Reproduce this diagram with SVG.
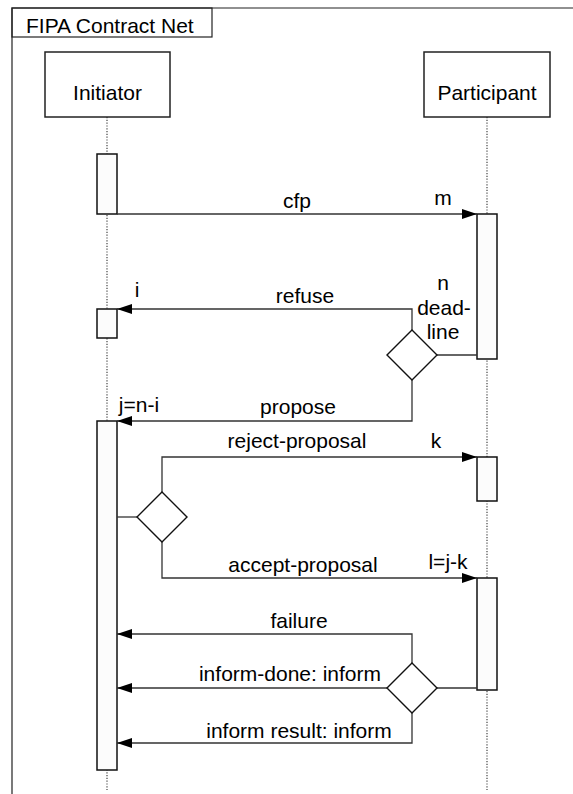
<svg xmlns="http://www.w3.org/2000/svg" width="573" height="794" viewBox="0 0 573 794">
  <defs>
    <marker id="arrow" markerWidth="15" markerHeight="10" refX="15" refY="5" orient="auto" markerUnits="userSpaceOnUse">
      <path d="M0,0 L15,5 L0,10 Z" fill="#000"/>
    </marker>
    <style>
      text { font-family: "Liberation Sans", Arial, sans-serif; font-size: 21px; fill: #000; }
      .mid { text-anchor: middle; }
      .frame { fill: none; stroke: #222; stroke-width: 1.2; }
      .head { fill: #fff; stroke: #222; stroke-width: 1.5; }
      .life { stroke: #444; stroke-width: 1.2; stroke-dasharray: 1.2 1.6; fill: none; }
      .act { fill: #fcfcfc; stroke: #111; stroke-width: 1.5; }
      .msg { fill: none; stroke: #333; stroke-width: 1.3; }
      .dec { fill: #fff; stroke: #111; stroke-width: 1.4; }
    </style>
  </defs>
  <rect width="573" height="794" fill="#fff"/>

  <!-- sequence frame -->
  <g id="frame">
    <path class="frame" d="M12,794 V8 H573"/>
    <rect class="frame" x="12" y="8" width="200" height="29"/>
    <text x="26" y="32.5">FIPA Contract Net</text>
  </g>

  <!-- lifelines -->
  <g id="lifelines">
    <line class="life" x1="107" y1="117" x2="107" y2="790"/>
    <line class="life" x1="487" y1="117" x2="487" y2="790"/>
  </g>

  <g id="initiator">
    <rect class="head" x="45" y="52" width="125" height="65"/>
    <text class="mid" x="107.5" y="99.5">Initiator</text>
  </g>
  <g id="participant">
    <rect class="head" x="424" y="52" width="126" height="65"/>
    <text class="mid" x="487" y="99.5">Participant</text>
  </g>

  <!-- activation bars -->
  <g id="activations">
    <rect class="act" x="97" y="154" width="20" height="60"/>
    <rect class="act" x="97" y="309" width="20" height="29"/>
    <rect class="act" x="97" y="421" width="20" height="349"/>
    <rect class="act" x="477" y="214" width="20" height="145"/>
    <rect class="act" x="477" y="457" width="20" height="44"/>
    <rect class="act" x="477" y="578" width="20" height="112"/>
  </g>

  <!-- messages -->
  <g id="connectors">
    <line class="msg" x1="117" y1="214" x2="477" y2="214" marker-end="url(#arrow)"/>
    <path class="msg" d="M437,355 H477"/>
    <path class="msg" d="M412,330 V309 H117" marker-end="url(#arrow)"/>
    <path class="msg" d="M412,380 V421 H117" marker-end="url(#arrow)"/>
    <path class="msg" d="M117,517 H137"/>
    <path class="msg" d="M162,492 V457 H477" marker-end="url(#arrow)"/>
    <path class="msg" d="M162,542 V578 H477" marker-end="url(#arrow)"/>
    <path class="msg" d="M412,663 V634 H117" marker-end="url(#arrow)"/>
    <path class="msg" d="M387,688 H117" marker-end="url(#arrow)"/>
    <path class="msg" d="M412,713 V743 H117" marker-end="url(#arrow)"/>
    <path class="msg" d="M437,688 H477"/>
  </g>

  <!-- decision points -->
  <g id="decision-deadline">
    <path class="dec" d="M412,330 L437,355 L412,380 L387,355 Z"/>
  </g>
  <g id="decision-proposal">
    <path class="dec" d="M162,492 L187,517 L162,542 L137,517 Z"/>
  </g>
  <g id="decision-result">
    <path class="dec" d="M412,663 L437,688 L412,713 L387,688 Z"/>
  </g>

  <!-- message labels -->
  <g id="labels">
    <text class="mid" x="297" y="208">cfp</text>
    <text class="mid" x="443" y="205">m</text>
    <text class="mid" x="305" y="303">refuse</text>
    <text class="mid" x="137" y="297">i</text>
    <text class="mid" x="443" y="290">n</text>
    <text class="mid" x="444" y="315">dead-</text>
    <text class="mid" x="443" y="339">line</text>
    <text class="mid" x="298" y="414">propose</text>
    <text class="mid" x="139" y="412">j=n-i</text>
    <text class="mid" x="297" y="448">reject-proposal</text>
    <text class="mid" x="436" y="448">k</text>
    <text class="mid" x="303" y="572">accept-proposal</text>
    <text class="mid" x="448" y="569">l=j-k</text>
    <text class="mid" x="299" y="628">failure</text>
    <text class="mid" x="290" y="681">inform-done: inform</text>
    <text class="mid" x="299" y="738">inform result: inform</text>
  </g>
</svg>
